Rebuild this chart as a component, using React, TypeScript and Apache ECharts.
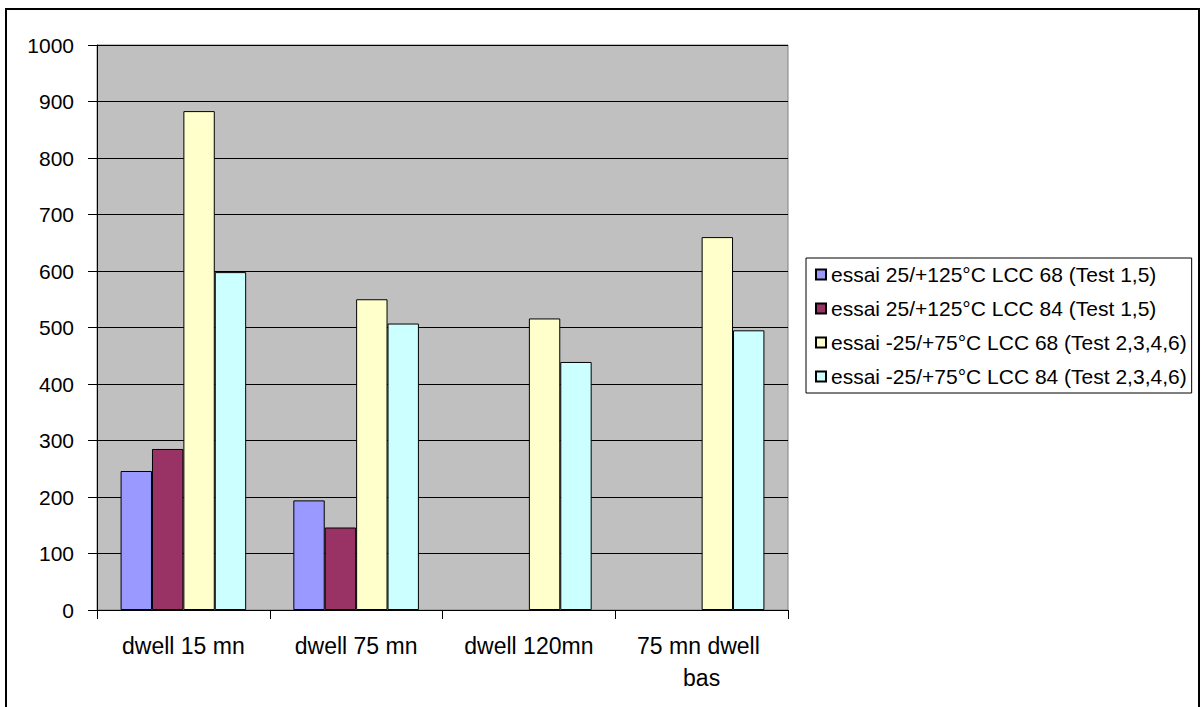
import React, { useEffect, useRef } from "react";
import * as echarts from "echarts";

const categories = ["dwell 15 mn", "dwell 75 mn", "dwell 120mn", "75 mn dwell bas"];
const seriesNames = [
  "essai 25/+125°C LCC 68 (Test 1,5)",
  "essai 25/+125°C LCC 84 (Test 1,5)",
  "essai -25/+75°C LCC 68 (Test 2,3,4,6)",
  "essai -25/+75°C LCC 84 (Test 2,3,4,6)",
];
const lcc68Hot = [246, 194, null, null];
const lcc84Hot = [285, 146, null, null];
const lcc68Cold = [883, 550, 516, 660];
const lcc84Cold = [598, 507, 439, 495];
const seriesColors = ["#9999FF", "#993366", "#FFFFCC", "#CCFFFF"];
const yTicks = { min: 0, max: 1000, interval: 100 };

const FONT = "'Liberation Sans', Arial, sans-serif";

export default function App() {
  const ref = useRef<HTMLDivElement>(null);
  useEffect(() => {
    if (!ref.current) return;
    const chart = echarts.init(ref.current, null, { renderer: "svg" });
    const values = [lcc68Hot, lcc84Hot, lcc68Cold, lcc84Cold];
    chart.setOption({
      animation: false,
      backgroundColor: "#FFFFFF",
      textStyle: { fontFamily: FONT },
      graphic: [
        {
          type: "rect",
          shape: { x: 6, y: 9, width: 1193, height: 720 },
          style: { fill: "none", stroke: "#000", lineWidth: 2 },
          silent: true,
          z: 100,
        },
      ],
      grid: {
        left: 97,
        right: 416,
        top: 45,
        bottom: 97,
        show: true,
        backgroundColor: "#C0C0C0",
        borderColor: "#808080",
        borderWidth: 1,
      },
      legend: {
        orient: "vertical",
        left: 806,
        top: 258,
        backgroundColor: "#FFFFFF",
        borderColor: "#000",
        borderWidth: 1,
        padding: [6, 5, 6, 9],
        itemGap: 13,
        itemWidth: 10,
        itemHeight: 10,
        icon: "rect",
        textStyle: { fontFamily: FONT, fontSize: 21, color: "#000", lineHeight: 21 },
        data: seriesNames,
      },
      xAxis: {
        type: "category",
        data: categories,
        axisLine: { lineStyle: { color: "#000", width: 1 } },
        axisTick: { show: true, length: 9, lineStyle: { color: "#000" } },
        axisLabel: {
          interval: 0,
          fontFamily: FONT,
          fontSize: 23,
          color: "#000",
          margin: 20,
          lineHeight: 32,
          width: 150,
          overflow: "break",
        },
        splitLine: { show: false },
      },
      yAxis: {
        type: "value",
        min: yTicks.min,
        max: yTicks.max,
        interval: yTicks.interval,
        axisLine: { show: true, lineStyle: { color: "#000", width: 1 } },
        axisTick: { show: true, length: 9, lineStyle: { color: "#000" } },
        axisLabel: {
          fontFamily: FONT,
          fontSize: 21,
          color: "#000",
          margin: 23,
          formatter: (v: number) => String(v),
        },
        splitLine: { show: true, lineStyle: { color: "#000", width: 1 } },
      },
      series: seriesNames.map((name, i) => ({
        name,
        type: "bar",
        data: values[i],
        barGap: "0%",
        barCategoryGap: "27.3%",
        itemStyle: { color: seriesColors[i], borderColor: "#000", borderWidth: 1 },
      })),
    });
    return () => chart.dispose();
  }, []);
  return (
    <div
      ref={ref}
      style={{ position: "absolute", left: 0, top: 0, width: 1204, height: 707 }}
    />
  );
}
